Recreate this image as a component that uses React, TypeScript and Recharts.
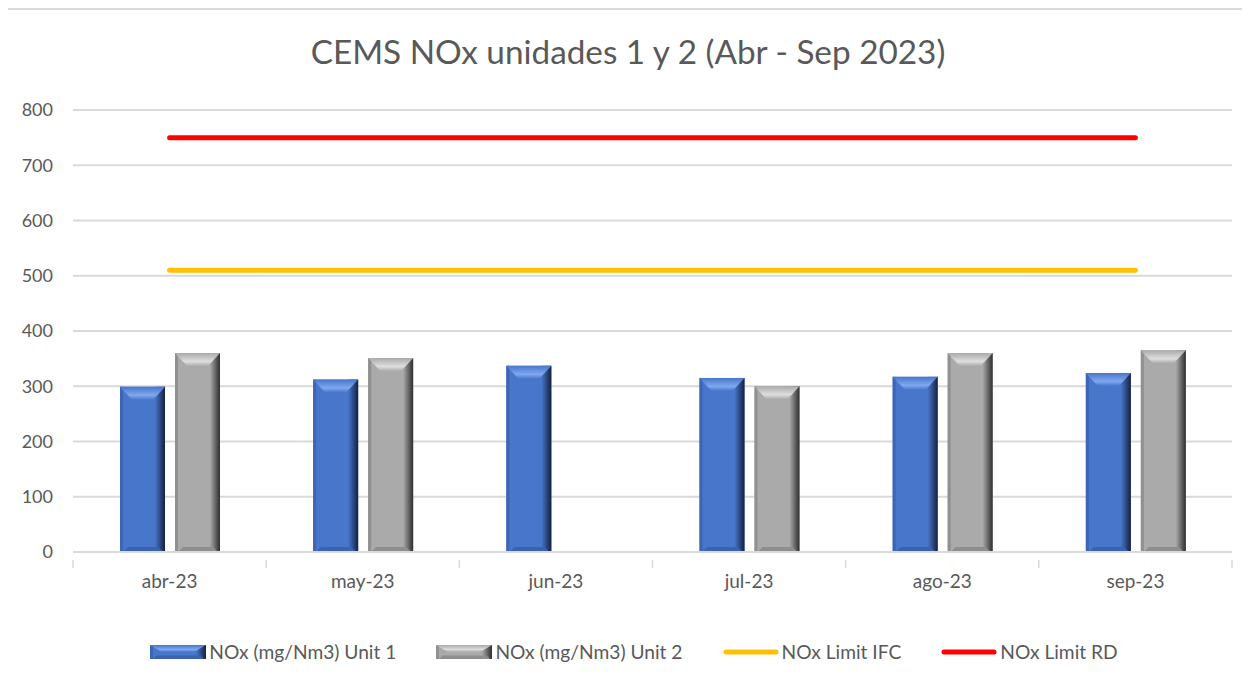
import React from "react";
import {
  ComposedChart,
  Bar,
  Line,
  XAxis,
  YAxis,
  CartesianGrid,
} from "recharts";

// values
const months = ["abr-23", "may-23", "jun-23", "jul-23", "ago-23", "sep-23"];
const unit1 = [299, 312, 337, 315, 317, 324];
const unit2 = [360, 351, null, 300, 360, 365];
const limitIfc = [510, 510, 510, 510, 510, 510];
const limitRd = [750, 750, 750, 750, 750, 750];
const yTicks = [0, 100, 200, 300, 400, 500, 600, 700, 800];

const chartData = months.map((m, i) => ({
  month: m,
  unit1: unit1[i],
  unit2: unit2[i],
  ifc: limitIfc[i],
  rd: limitRd[i],
}));

const FONT = "Lato, 'Open Sans', sans-serif";
const TEXT = "#595959";
const GRID = "#d9d9d9";

const CHART_W = 1240;
const CHART_H = 673;
const MARGIN = { top: 100, right: 16, bottom: 101, left: 0 };
const Y_W = 65;
const BAND = (CHART_W - MARGIN.right - Y_W) / months.length;

interface Palette {
  face: string;
  top: string;
  left: string;
  rightDark: string;
  bottom: string;
}

const BLUE: Palette = {
  face: "#4876cb",
  top: "#80a8ef",
  left: "#3c66b3",
  rightDark: "#14213f",
  bottom: "#3a62ad",
};

const GRAY: Palette = {
  face: "#aaaaaa",
  top: "#dedede",
  left: "#909090",
  rightDark: "#2e2e2e",
  bottom: "#8e8e8e",
};

interface BevelProps {
  x?: number;
  y?: number;
  width?: number;
  height?: number;
  id: string;
  pal: Palette;
}

// bevelled bar like Excel's "angle" bevel
const Bevel = ({ x = 0, y = 0, width = 0, height = 0, id, pal }: BevelProps) => {
  if (!height || height <= 0) return null;
  const bx = Math.min(12, width / 3.5);
  const by = Math.min(13, height / 2);
  const bb = Math.min(5, height / 4);
  const sideR = Math.min(10, width / 4);
  const r = x + width;
  const bt = y + height;
  return (
    <g>
      <defs>
        <linearGradient id={`${id}-r`} x1="0" y1="0" x2="1" y2="0">
          <stop offset="0%" stopColor={pal.face} />
          <stop offset="100%" stopColor={pal.rightDark} />
        </linearGradient>
        <linearGradient id={`${id}-t`} x1="0" y1="0" x2="0" y2="1">
          <stop offset="0%" stopColor={pal.face} />
          <stop offset="65%" stopColor={pal.top} />
          <stop offset="100%" stopColor={pal.face} />
        </linearGradient>
      </defs>
      <rect x={x} y={y} width={width} height={height} fill={pal.face} />
      <rect x={x} y={y} width={3} height={height} fill={pal.left} />
      <rect x={r - sideR} y={y} width={sideR} height={height} fill={`url(#${id}-r)`} />
      <polygon
        points={`${x},${y} ${r},${y} ${r - bx},${y + by} ${x + bx},${y + by}`}
        fill={`url(#${id}-t)`}
      />
      <polygon
        points={`${x + 3},${bt} ${r - 2},${bt} ${r - bb - 2},${bt - bb} ${x + bb + 3},${bt - bb}`}
        fill={pal.bottom}
      />
    </g>
  );
};

const MonthTick = (props: any) => {
  const { x, y, payload, index } = props;
  const half = BAND / 2;
  return (
    <g>
      <line x1={x - half} y1={y} x2={x - half} y2={y + 8} stroke={GRID} strokeWidth={1.5} />
      {index === months.length - 1 && (
        <line x1={x + half} y1={y} x2={x + half} y2={y + 8} stroke={GRID} strokeWidth={1.5} />
      )}
      <text
        x={x}
        y={y + 28}
        textAnchor="middle"
        fill={TEXT}
        fontSize={19}
        fontFamily={FONT}
      >
        {payload.value}
      </text>
    </g>
  );
};

const legendItems = [
  { label: "NOx (mg/Nm3) Unit 1", kind: "bar", pal: BLUE },
  { label: "NOx (mg/Nm3) Unit 2", kind: "bar", pal: GRAY },
  { label: "NOx Limit IFC", kind: "line", color: "#ffc000" },
  { label: "NOx Limit RD", kind: "line", color: "#ff0000" },
];

const Legend = () => (
  <div
    style={{
      position: "absolute",
      left: 6,
      top: 630,
      width: CHART_W,
      display: "flex",
      justifyContent: "center",
      alignItems: "center",
      gap: 40,
      fontFamily: FONT,
      fontSize: 19.2,
      color: TEXT,
    }}
  >
    {legendItems.map((it, i) => (
      <div key={i} style={{ display: "flex", alignItems: "center" }}>
        <svg width={56} height={16} style={{ marginRight: 3 }}>
          {it.kind === "bar" ? (
            <Bevel x={0} y={1} width={56} height={14} id={`lg${i}`} pal={it.pal as Palette} />
          ) : (
            <line
              x1={3}
              y1={8}
              x2={53}
              y2={8}
              stroke={it.color}
              strokeWidth={5}
              strokeLinecap="round"
            />
          )}
        </svg>
        <span>{it.label}</span>
      </div>
    ))}
  </div>
);

export default function App() {
  return (
    <div style={{ width: 1244, height: 675, overflow: "hidden", marginLeft: -2 }}>
      <div
        style={{
          position: "relative",
          width: 1260,
          height: 700,
          borderTop: `2px solid ${GRID}`,
          borderLeft: `2px solid ${GRID}`,
          background: "#fff",
        }}
      >
        <div
          style={{
            position: "absolute",
            left: 0,
            top: 21,
            width: CHART_W,
            textAlign: "center",
            fontFamily: FONT,
            fontSize: 33.3,
            color: TEXT,
          }}
        >
          CEMS NOx unidades 1 y 2 (Abr - Sep 2023)
        </div>
        <ComposedChart
          width={CHART_W}
          height={CHART_H}
          data={chartData}
          margin={MARGIN}
          barSize={45}
          barGap={10}
        >
          <CartesianGrid vertical={false} stroke={GRID} strokeWidth={2} />
          <XAxis
            dataKey="month"
            axisLine={{ stroke: GRID, strokeWidth: 2 }}
            tickLine={false}
            height={30}
            interval={0}
            tick={<MonthTick />}
          />
          <YAxis
            domain={[0, 800]}
            ticks={yTicks}
            width={Y_W}
            axisLine={false}
            tickLine={false}
            tickSize={0}
            tickMargin={20}
            tick={{ fill: TEXT, fontSize: 18, fontFamily: FONT }}
          />
          <Bar
            dataKey="unit1"
            name="NOx (mg/Nm3) Unit 1"
            isAnimationActive={false}
            shape={(p: any) => <Bevel {...p} id={`b1-${p.index}`} pal={BLUE} />}
          />
          <Bar
            dataKey="unit2"
            name="NOx (mg/Nm3) Unit 2"
            isAnimationActive={false}
            shape={(p: any) => <Bevel {...p} id={`b2-${p.index}`} pal={GRAY} />}
          />
          <Line
            dataKey="ifc"
            name="NOx Limit IFC"
            stroke="#ffc000"
            strokeWidth={5}
            strokeLinecap="round"
            dot={false}
            activeDot={false}
            isAnimationActive={false}
          />
          <Line
            dataKey="rd"
            name="NOx Limit RD"
            stroke="#ff0000"
            strokeWidth={5}
            strokeLinecap="round"
            dot={false}
            activeDot={false}
            isAnimationActive={false}
          />
        </ComposedChart>
        <Legend />
      </div>
    </div>
  );
}
